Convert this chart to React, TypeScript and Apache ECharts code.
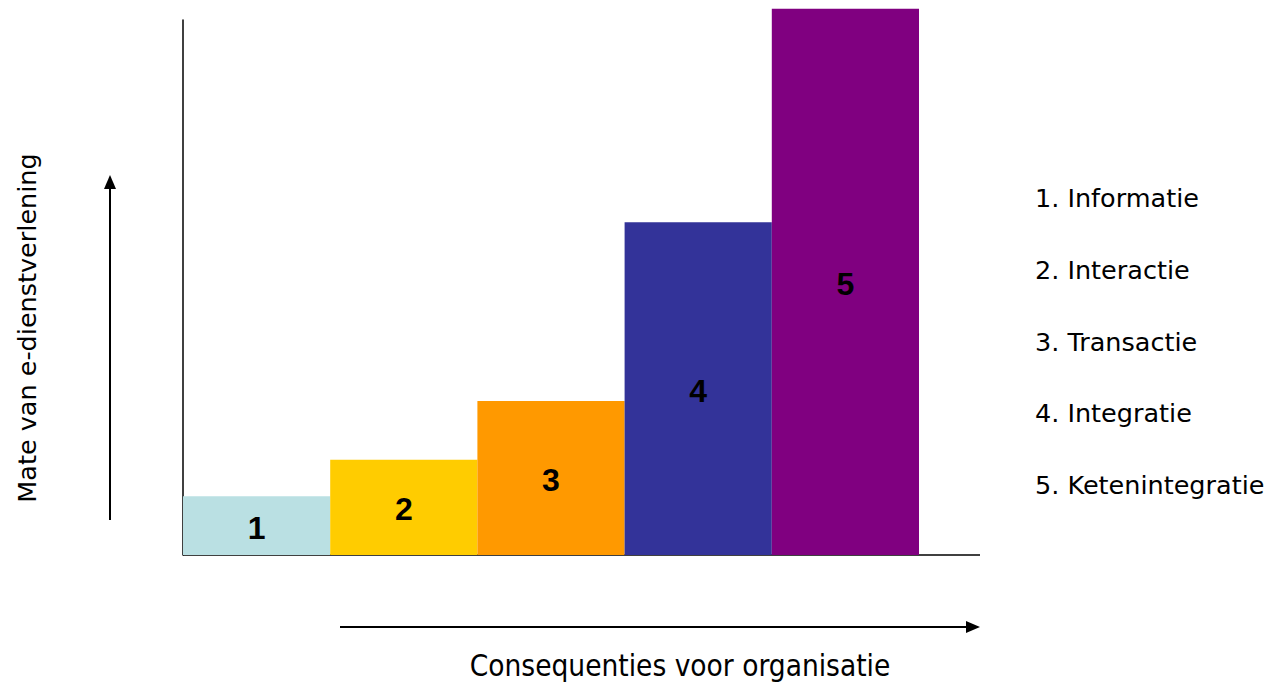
import React, { useEffect, useRef } from "react";
import * as echarts from "echarts";

const categories = ["1", "2", "3", "4", "5"];
const values = [11.0, 17.8, 28.8, 62.2, 102.1];
const barColors = ["#BAE0E3", "#FFCC00", "#FF9900", "#333399", "#800080"];
const legendItems = ["1. Informatie", "2. Interactie", "3. Transactie", "4. Integratie", "5. Ketenintegratie"];
const yTitle = "Mate van e-dienstverlening";
const xTitle = "Consequenties voor organisatie";

export default function App() {
  const ref = useRef<HTMLDivElement>(null);
  useEffect(() => {
    if (!ref.current) return;
    const chart = echarts.init(ref.current, null, { renderer: "svg" });
    const legendFont = "'DejaVu Sans', sans-serif";
    const graphics: any[] = [
      { type: "line", shape: { x1: 183, y1: 555, x2: 980, y2: 555 }, style: { stroke: "#000", lineWidth: 1.5 } },
      { type: "line", shape: { x1: 110, y1: 520, x2: 110, y2: 185 }, style: { stroke: "#000", lineWidth: 2 } },
      { type: "polygon", shape: { points: [[110, 175], [104, 189], [116, 189]] }, style: { fill: "#000" } },
      { type: "line", shape: { x1: 340, y1: 627, x2: 970, y2: 627 }, style: { stroke: "#000", lineWidth: 2 } },
      { type: "polygon", shape: { points: [[980, 627], [966, 621], [966, 633]] }, style: { fill: "#000" } },
      {
        type: "text", x: 27, y: 328, rotation: Math.PI / 2,
        style: { text: yTitle, fill: "#000", font: "25.5px 'DejaVu Sans', sans-serif", textAlign: "center", textVerticalAlign: "middle" },
      },
      {
        type: "text", x: 680, y: 666,
        style: { text: xTitle, fill: "#000", font: "29.5px 'DejaVu Sans Condensed', 'DejaVu Sans', sans-serif", textAlign: "center", textVerticalAlign: "middle" },
      },
    ];
    legendItems.forEach((t, i) => {
      graphics.push({
        type: "text", x: 1035, y: 198 + i * 71.8,
        style: { text: t, fill: "#000", font: "25.5px " + legendFont, textAlign: "left", textVerticalAlign: "middle" },
      });
    });
    chart.setOption({
      animation: false,
      grid: { left: 183, top: 20, width: 736, height: 535, containLabel: false },
      xAxis: {
        type: "category", data: categories,
        axisLine: { show: false }, axisTick: { show: false }, axisLabel: { show: false },
      },
      yAxis: {
        type: "value", min: 0, max: 100,
        axisLine: { show: true, lineStyle: { color: "#000", width: 1.5 } },
        axisTick: { show: false }, axisLabel: { show: false }, splitLine: { show: false },
      },
      series: [{
        type: "bar", clip: false, barCategoryGap: "0%",
        data: values.map((v, i) => ({ value: v, itemStyle: { color: barColors[i] } })),
        label: {
          show: true, position: "inside", offset: [0, 2], formatter: (p: any) => categories[p.dataIndex],
          color: "#000", fontSize: 32, fontWeight: "bold", fontFamily: "'Liberation Sans', Arial, sans-serif",
        },
      }],
      graphic: graphics,
    });
    return () => chart.dispose();
  }, []);
  return <div ref={ref} style={{ position: "fixed", left: 0, top: 0, width: 1278, height: 684, background: "#fff" }} />;
}
